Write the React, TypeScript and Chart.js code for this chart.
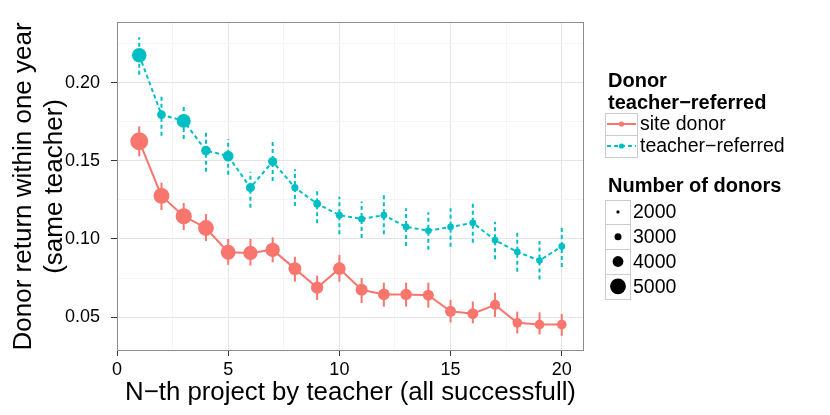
import { useEffect, useRef } from "react";
import { Chart, registerables } from "chart.js";

Chart.register(...registerables);

// N-th project by the teacher
const projectN = [1, 2, 3, 4, 5, 6, 7, 8, 9, 10, 11, 12, 13, 14, 15, 16, 17, 18, 19, 20];

// site donors: return rate, interval, number of donors
const siteRate = [
  0.1625, 0.1275, 0.1145, 0.107, 0.0915, 0.091, 0.093, 0.081, 0.0688, 0.081,
  0.0675, 0.0645, 0.0645, 0.064, 0.0537, 0.0522, 0.0578, 0.0463, 0.0452, 0.0452,
];
const siteLow = [
  0.1529, 0.1185, 0.1057, 0.0987, 0.0834, 0.083, 0.085, 0.0727, 0.061, 0.0726,
  0.059, 0.0567, 0.0567, 0.056, 0.0465, 0.046, 0.05, 0.0395, 0.0389, 0.038,
];
const siteHigh = [
  0.172, 0.136, 0.123, 0.116, 0.1, 0.1, 0.101, 0.0886, 0.0765, 0.0898,
  0.075, 0.072, 0.072, 0.072, 0.061, 0.06, 0.0656, 0.0535, 0.053, 0.052,
];
const siteDonors = [
  5400, 5000, 5070, 5000, 4820, 4710, 4710, 4430, 4290, 4360,
  4250, 4180, 4120, 4050, 4050, 4000, 3800, 3720, 3720, 3720,
];

// teacher-referred donors
const teacherRate = [
  0.2175, 0.1795, 0.1755, 0.1565, 0.153, 0.1328, 0.1495, 0.1328, 0.1225, 0.1152,
  0.1128, 0.1152, 0.1077, 0.1052, 0.1077, 0.1103, 0.0992, 0.0917, 0.0862, 0.0952,
];
const teacherLow = [
  0.205, 0.166, 0.164, 0.143, 0.141, 0.12, 0.137, 0.121, 0.11, 0.103,
  0.1006, 0.103, 0.0955, 0.093, 0.095, 0.0975, 0.087, 0.079, 0.074, 0.082,
];
const teacherHigh = [
  0.229, 0.191, 0.185, 0.168, 0.164, 0.143, 0.162, 0.1445, 0.132, 0.127,
  0.124, 0.128, 0.1197, 0.117, 0.1197, 0.123, 0.111, 0.104, 0.0987, 0.107,
];
const teacherDonors = [
  4750, 3450, 4650, 3700, 4000, 3550, 3550, 3050, 3200, 3000,
  3000, 2950, 2900, 2900, 2900, 2950, 2900, 2900, 2900, 2900,
];

const sizeBreaks = [2000, 3000, 4000, 5000];
const seriesLabels = ["site donor", "teacher\u2212referred"];

const RED = "#F8766D";
const TEAL = "#00BFC4";
const FONT = "'Liberation Sans', Arial, sans-serif";
const TEAL_DASH = [4, 3];

// point radius for a number of donors
function dotRadius(n: number) {
  const pts = [
    [2000, 1.6],
    [3000, 3.5],
    [4000, 5.4],
    [5000, 7.9],
  ];
  if (n <= pts[0][0]) return pts[0][1];
  for (let i = 1; i < pts.length; i++) {
    if (n <= pts[i][0]) {
      const [x0, r0] = pts[i - 1];
      const [x1, r1] = pts[i];
      return r0 + ((n - x0) / (x1 - x0)) * (r1 - r0);
    }
  }
  return 7.9 + ((n - 5000) / 1000) * 2.6;
}

const isMultiple = (v: number, step: number) =>
  Math.abs(v / step - Math.round(v / step)) < 1e-6;

const errorBars = {
  id: "errorBars",
  beforeDatasetsDraw(chart: any) {
    const { ctx, scales } = chart;
    const x = scales.x;
    const y = scales.y;
    const sets = [
      { low: siteLow, high: siteHigh, color: RED, dash: [] as number[] },
      { low: teacherLow, high: teacherHigh, color: TEAL, dash: TEAL_DASH },
    ];
    ctx.save();
    ctx.lineWidth = 2;
    sets.forEach((s) => {
      ctx.strokeStyle = s.color;
      ctx.setLineDash(s.dash);
      projectN.forEach((n, i) => {
        const px = x.getPixelForValue(n);
        ctx.beginPath();
        ctx.moveTo(px, y.getPixelForValue(s.low[i]));
        ctx.lineTo(px, y.getPixelForValue(s.high[i]));
        ctx.stroke();
      });
    });
    ctx.restore();
  },
};

const panelBorder = {
  id: "panelBorder",
  afterDatasetsDraw(chart: any) {
    const { ctx, chartArea: a } = chart;
    ctx.save();
    ctx.strokeStyle = "#8C8C8C";
    ctx.lineWidth = 1;
    ctx.strokeRect(
      Math.round(a.left) + 0.5,
      Math.round(a.top) + 0.5,
      Math.round(a.right - a.left) - 1,
      Math.round(a.bottom - a.top) - 1
    );
    ctx.restore();
  },
};

const ggLegend = {
  id: "ggLegend",
  afterDraw(chart: any) {
    const ctx = chart.ctx;
    ctx.save();

    // colour / linetype legend
    ctx.fillStyle = "#000";
    ctx.textBaseline = "alphabetic";
    ctx.textAlign = "left";
    ctx.font = `bold 20px ${FONT}`;
    ctx.fillText("Donor", 608, 87);
    ctx.fillText("teacher\u2212referred", 608, 109);

    const colors = [RED, TEAL];
    const dashes = [[], TEAL_DASH];
    seriesLabels.forEach((label, i) => {
      const top = 113 + i * 22;
      const cy = top + 11;
      ctx.fillStyle = "#fff";
      ctx.fillRect(605, top, 32, 22);
      ctx.strokeStyle = "#CCCCCC";
      ctx.lineWidth = 1;
      ctx.setLineDash([]);
      ctx.strokeRect(605.5, top + 0.5, 32, 22);
      ctx.strokeStyle = colors[i];
      ctx.lineWidth = 2;
      ctx.setLineDash(dashes[i]);
      ctx.beginPath();
      ctx.moveTo(607, cy);
      ctx.lineTo(636, cy);
      ctx.stroke();
      ctx.setLineDash([]);
      ctx.fillStyle = colors[i];
      ctx.beginPath();
      ctx.arc(621.5, cy, 2.6, 0, Math.PI * 2);
      ctx.fill();
      ctx.fillStyle = "#000";
      ctx.font = `19.5px ${FONT}`;
      ctx.textBaseline = "middle";
      ctx.fillText(label, 640, cy + 1);
    });

    // size legend
    ctx.textBaseline = "alphabetic";
    ctx.font = `bold 20px ${FONT}`;
    ctx.fillStyle = "#000";
    ctx.fillText("Number of donors", 608, 192);
    const rowH = 24.8;
    sizeBreaks.forEach((n, i) => {
      const top = 199.5 + i * rowH;
      const cy = top + rowH / 2;
      ctx.fillStyle = "#fff";
      ctx.fillRect(605, top, 25, rowH);
      ctx.strokeStyle = "#CCCCCC";
      ctx.lineWidth = 1;
      ctx.strokeRect(605.5, Math.round(top) + 0.5, 25, Math.round(rowH));
      ctx.fillStyle = "#000";
      ctx.beginPath();
      ctx.arc(618, cy, dotRadius(n), 0, Math.PI * 2);
      ctx.fill();
      ctx.font = `19.5px ${FONT}`;
      ctx.textBaseline = "middle";
      ctx.fillText(String(n), 633, cy + 1);
    });

    ctx.restore();
  },
};

export default function App() {
  const canvasRef = useRef<HTMLCanvasElement>(null);
  const chartRef = useRef<Chart | null>(null);

  useEffect(() => {
    if (!canvasRef.current) return;
    if (chartRef.current) chartRef.current.destroy();

    chartRef.current = new Chart(canvasRef.current, {
      type: "line",
      data: {
        datasets: [
          {
            label: seriesLabels[0],
            data: projectN.map((n, i) => ({ x: n, y: siteRate[i] })),
            borderColor: RED,
            backgroundColor: RED,
            borderWidth: 2,
            pointBackgroundColor: RED,
            pointBorderWidth: 0,
            pointRadius: (c: any) => dotRadius(siteDonors[c.dataIndex]),
            tension: 0,
          },
          {
            label: seriesLabels[1],
            data: projectN.map((n, i) => ({ x: n, y: teacherRate[i] })),
            borderColor: TEAL,
            backgroundColor: TEAL,
            borderWidth: 2,
            borderDash: TEAL_DASH,
            pointBackgroundColor: TEAL,
            pointBorderWidth: 0,
            pointRadius: (c: any) => dotRadius(teacherDonors[c.dataIndex]),
            tension: 0,
          },
        ],
      },
      options: {
        responsive: false,
        animation: false,
        layout: { padding: { top: 20, right: 246, bottom: 0, left: 0 } },
        plugins: {
          legend: { display: false },
          tooltip: { enabled: false },
        },
        scales: {
          x: {
            type: "linear",
            min: 0,
            max: 21,
            border: { display: false },
            afterFit: (s: any) => {
              s.height = 64;
            },
            ticks: {
              stepSize: 2.5,
              autoSkip: false,
              includeBounds: false,
              maxRotation: 0,
              padding: 3,
              color: "#000",
              font: { family: FONT, size: 18 },
              callback: (v: any) => (isMultiple(Number(v), 5) ? String(v) : ""),
            },
            grid: {
              color: (c: any) => (isMultiple(c.tick.value, 5) ? "#E5E5E5" : "#F5F5F5"),
              tickColor: (c: any) => (isMultiple(c.tick.value, 5) ? "#333333" : "rgba(0,0,0,0)"),
              tickLength: 5,
              lineWidth: 1,
            },
            title: {
              display: true,
              text: "N\u2212th project by teacher (all successfull)",
              color: "#000",
              font: { family: FONT, size: 25.8 },
              padding: { top: 0, bottom: 7 },
            },
          },
          y: {
            type: "linear",
            min: 0.0283,
            max: 0.2389,
            border: { display: false },
            afterFit: (s: any) => {
              s.width = 117;
            },
            ticks: {
              stepSize: 0.025,
              autoSkip: false,
              includeBounds: false,
              padding: 11,
              color: "#000",
              font: { family: FONT, size: 18 },
              callback: (v: any) => (isMultiple(Number(v), 0.05) ? Number(v).toFixed(2) : ""),
            },
            grid: {
              color: (c: any) => (isMultiple(c.tick.value, 0.05) ? "#E5E5E5" : "#F5F5F5"),
              tickColor: (c: any) => (isMultiple(c.tick.value, 0.05) ? "#333333" : "rgba(0,0,0,0)"),
              tickLength: 6,
              lineWidth: 1,
            },
            title: {
              display: true,
              text: ["Donor return within one year", "(same teacher)"],
              color: "#000",
              font: { family: FONT, size: 26 },
              padding: { top: 8, bottom: 0 },
            },
          },
        },
      },
      plugins: [errorBars, panelBorder, ggLegend],
    } as any);

    return () => {
      if (chartRef.current) {
        chartRef.current.destroy();
        chartRef.current = null;
      }
    };
  }, []);

  return (
    <div style={{ position: "absolute", left: 0, top: 0, width: 830, height: 415, background: "#fff" }}>
      <canvas ref={canvasRef} width={830} height={415} />
    </div>
  );
}
